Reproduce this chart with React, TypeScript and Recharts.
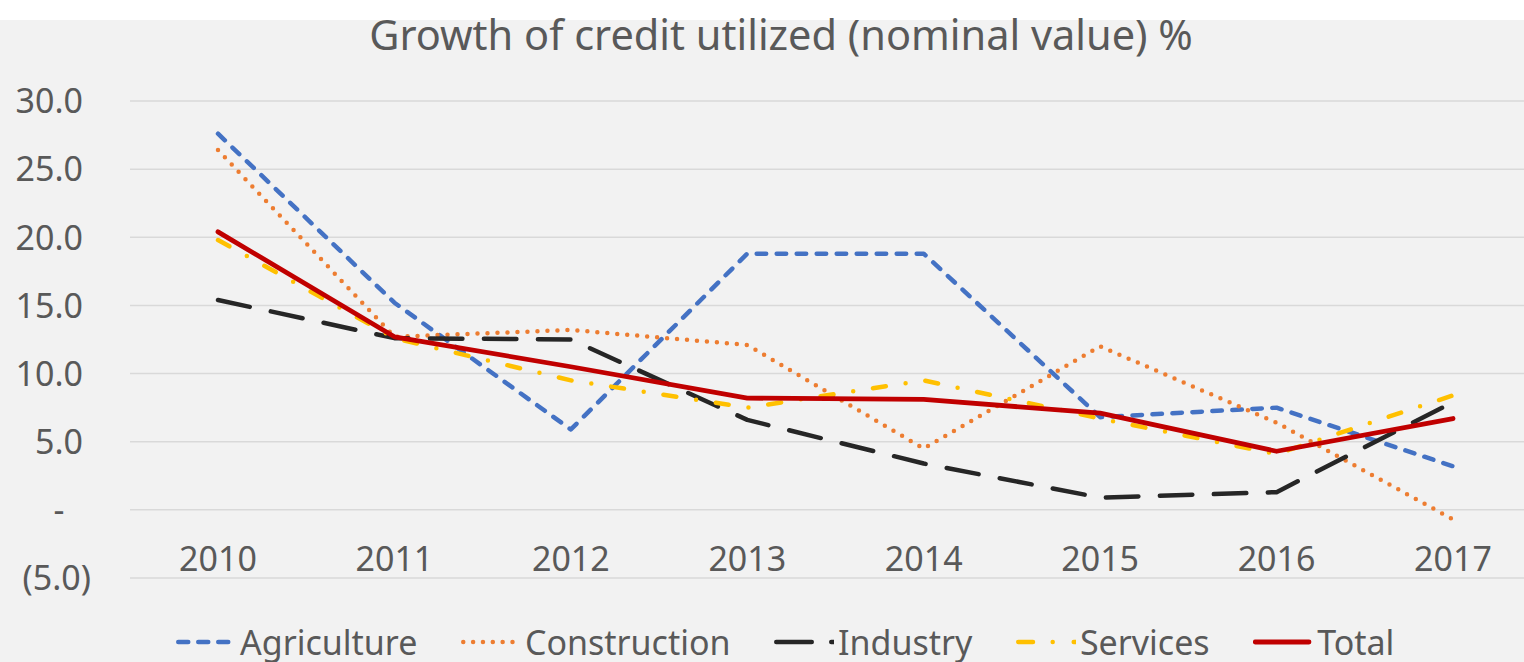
import React from 'react';
import { LineChart, Line, XAxis, YAxis, CartesianGrid, Legend } from 'recharts';

// ---- data ----
const years = ['2010', '2011', '2012', '2013', '2014', '2015', '2016', '2017'];
const agriculture = [27.6, 15.2, 5.9, 18.8, 18.8, 6.8, 7.5, 3.2];
const construction = [26.4, 12.7, 13.2, 12.1, 4.5, 12.0, 6.4, -0.7];
const industry = [15.4, 12.6, 12.5, 6.6, 3.4, 0.9, 1.3, 7.9];
const services = [19.8, 12.6, 9.5, 7.5, 9.5, 6.7, 4.1, 8.4];
const total = [20.4, 12.7, 10.5, 8.2, 8.1, 7.1, 4.3, 6.7];
const yTicks = [-5, 0, 5, 10, 15, 20, 25, 30];
const seriesNames = ['Agriculture', 'Construction', 'Industry', 'Services', 'Total'];
const titleText = 'Growth of credit utilized (nominal value) %';

const seriesValues = [agriculture, construction, industry, services, total];

const data = years.map((year, i) => {
  const row: Record<string, any> = { year };
  seriesNames.forEach((name, s) => {
    row[name] = seriesValues[s][i];
  });
  return row;
});

// ---- styles ----
const FONT = "'Noto Sans', 'Open Sans', sans-serif";
const TEXT = '#595959';
const BG = '#f2f2f2';
const seriesStyle: Record<string, { color: string; dash?: string; legendDash?: string; width: number }> = {
  Agriculture: { color: '#4472c4', dash: '9.5 10.5', legendDash: '10 10', width: 4.5 },
  Construction: { color: '#ed7d31', dash: '0 10', legendDash: '0 9.85', width: 4.5 },
  Industry: { color: '#262626', dash: '32.5 21.5', legendDash: '35.5 19.5', width: 4.5 },
  Services: { color: '#ffc000', dash: '13 20 0 20', legendDash: '14.75 19.7 0 21', width: 4.5 },
  Total: { color: '#c00000', width: 4.8 },
};

const W = 1560;
const H = 662;

const fmt = (v: number) => {
  if (v > 0) return v.toFixed(1);
  if (v === 0) return '-';
  return `(${Math.abs(v).toFixed(1)})`;
};

const YTick = (props: any) => {
  const { x, y, payload } = props;
  const v = payload.value as number;
  let tx = x - 47;
  let anchor: 'end' | 'middle' = 'end';
  if (v === 0) {
    tx = x - 71;
    anchor = 'middle';
  } else if (v < 0) {
    tx = x - 39;
  }
  return (
    <text x={tx} y={y} dy="0.36em" textAnchor={anchor} fill={TEXT} fontSize={34} fontFamily={FONT}>
      {fmt(v)}
    </text>
  );
};

const XTick = (props: any) => {
  const { x, y, payload } = props;
  return (
    <text x={x} y={y - 19} dy="0.36em" textAnchor="middle" fill={TEXT} fontSize={34} fontFamily={FONT}>
      {payload.value}
    </text>
  );
};

const renderLegend = () => (
  <div
    style={{
      display: 'flex',
      alignItems: 'center',
      gap: 43.5,
      fontFamily: FONT,
      fontSize: 34,
      lineHeight: '34px',
      color: TEXT,
      whiteSpace: 'nowrap',
    }}
  >
    {seriesNames.map((name) => {
      const st = seriesStyle[name];
      return (
        <div key={name} style={{ display: 'flex', alignItems: 'center' }}>
          <svg width={60} height={12} style={{ marginRight: 4, display: 'block', overflow: 'hidden' }}>
            <line
              x1={2.25}
              y1={6}
              x2={name === 'Total' ? 56 : 60}
              y2={6}
              stroke={st.color}
              strokeWidth={st.width}
              strokeDasharray={st.legendDash}
              strokeLinecap="round"
            />
          </svg>
          <span>{name}</span>
        </div>
      );
    })}
  </div>
);

export default function App() {
  return (
    <div
      style={{
        position: 'fixed',
        left: 0,
        top: 0,
        width: 1524,
        height: 662,
        overflow: 'hidden',
        background: BG,
      }}
    >
      <div style={{ position: 'absolute', left: 0, top: 0, width: 1524, height: 20, background: '#ffffff' }} />
      <svg width={1524} height={70} style={{ position: 'absolute', left: 0, top: 0 }}>
        <text x={781} y={50} textAnchor="middle" fill={TEXT} fontSize={41.5} fontFamily={FONT}>
          {titleText}
        </text>
      </svg>
      <div style={{ position: 'absolute', left: 0, top: 0 }}>
        <LineChart width={W} height={H} data={data} margin={{ top: 101, right: 19, bottom: 54, left: 0 }}>
          <CartesianGrid vertical={false} stroke="#d9d9d9" strokeWidth={1.5} />
          <XAxis
            dataKey="year"
            axisLine={false}
            tickLine={false}
            tickSize={0}
            tickMargin={0}
            interval={0}
            padding={{ left: 88, right: 88 }}
            tick={<XTick />}
            height={30}
          />
          <YAxis
            width={130}
            domain={[-5, 30]}
            ticks={yTicks}
            interval={0}
            axisLine={false}
            tickLine={false}
            tickSize={0}
            tickMargin={0}
            tick={<YTick />}
            allowDataOverflow
          />
          {seriesNames.map((name) => {
            const st = seriesStyle[name];
            return (
              <Line
                key={name}
                type="linear"
                dataKey={name}
                stroke={st.color}
                strokeWidth={st.width}
                strokeDasharray={st.dash}
                strokeLinecap="round"
                strokeLinejoin="round"
                dot={false}
                activeDot={false}
                isAnimationActive={false}
              />
            );
          })}
          <Legend
            layout="horizontal"
            verticalAlign="middle"
            align="center"
            content={renderLegend}
            wrapperStyle={{ position: 'absolute', left: 176, top: 625, width: 'auto', height: 34 }}
          />
        </LineChart>
      </div>
    </div>
  );
}
